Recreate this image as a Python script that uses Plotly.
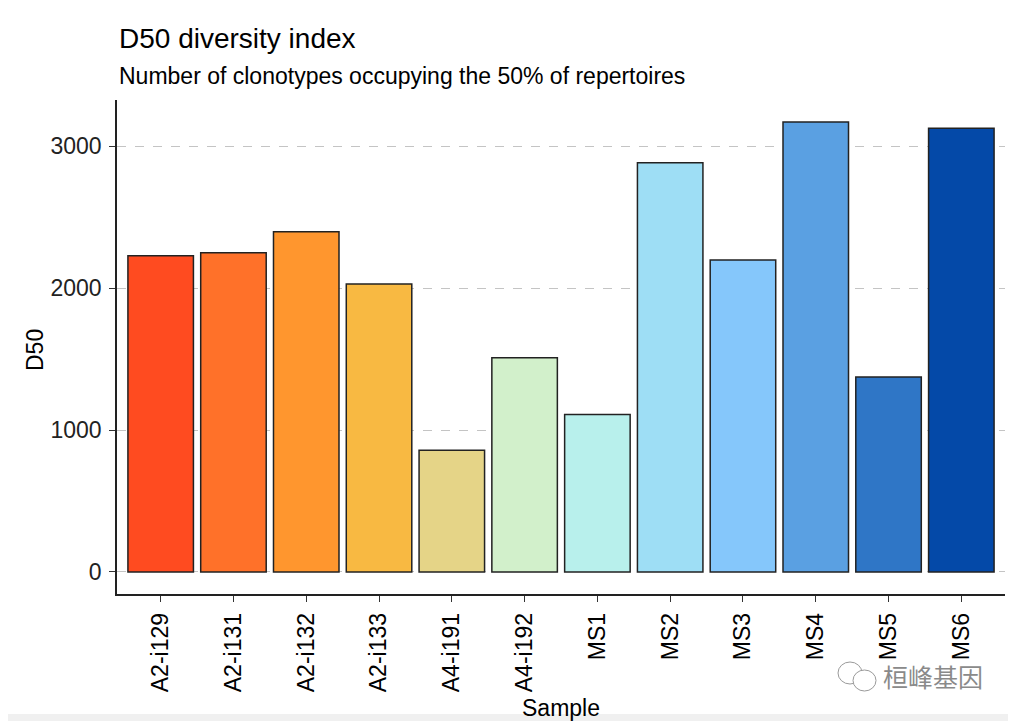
import plotly.graph_objects as go

samples = ["A2-i129", "A2-i131", "A2-i132", "A2-i133", "A4-i191", "A4-i192",
           "MS1", "MS2", "MS3", "MS4", "MS5", "MS6"]
d50 = [2227, 2249, 2397, 2028, 857, 1509, 1110, 2882, 2197, 3169, 1373, 3125]
colors = ["#FF4B20", "#FF7129", "#FF962E", "#F8B942", "#E5D487", "#D2F0CB",
          "#B8F0EC", "#9EDEF5", "#85C7FB", "#5AA0E2", "#2F76C6", "#0449A8"]
y_ticks = [0, 1000, 2000, 3000]

FONT = "Liberation Sans, Arial, sans-serif"

fig = go.Figure()
fig.add_trace(go.Bar(
    x=samples, y=d50, width=0.9,
    marker=dict(color=colors, line=dict(color="#222222", width=1.5)),
    showlegend=False,
))

# page is offset by the 8px body margin
OFF = 8
W, H = 1016 - OFF, 721 - OFF
PL, PR, PT, PB = 117, 1005, 100, 594   # plot area in page pixels
L, R, T, B = PL - OFF, 1016 - PR, PT - OFF, 721 - PB
pw, ph = PR - PL, PB - PT

def px_x(x):
    return (x - PL) / pw

def px_y(y):
    return (PB - y) / ph

GREY = "#9a9a9a"
shapes = [
    dict(type="rect", xref="paper", yref="paper",
         x0=px_x(0), x1=px_x(1016), y0=px_y(721), y1=px_y(714),
         fillcolor="#f0f0f0", line=dict(width=0), layer="below"),
    dict(type="circle", xref="paper", yref="paper",
         x0=px_x(838), x1=px_x(862), y0=px_y(684), y1=px_y(662),
         fillcolor="white", line=dict(color=GREY, width=1)),
    dict(type="circle", xref="paper", yref="paper",
         x0=px_x(853), x1=px_x(876), y0=px_y(691), y1=px_y(670),
         fillcolor="white", line=dict(color=GREY, width=1)),
]

fig.update_layout(
    width=W, height=H,
    margin=dict(l=L, r=R, t=T, b=B, pad=0),
    paper_bgcolor="white", plot_bgcolor="white",
    font=dict(family=FONT, color="#000000"),
    bargap=0.1,
    xaxis=dict(
        type="category", range=[-0.6, 11.6],
        showline=True, linecolor="#222222", linewidth=1.5,
        ticks="outside", ticklen=6, tickcolor="#333333", tickwidth=1.2,
        tickangle=-90, tickfont=dict(size=23, color="#000000"),
        ticklabelstandoff=2,
        showgrid=False, zeroline=False,
    ),
    yaxis=dict(
        range=[-155, 3324],
        tickvals=y_ticks, ticktext=[str(v) for v in y_ticks],
        showline=True, linecolor="#222222", linewidth=1.5,
        ticks="outside", ticklen=6, tickcolor="#333333", tickwidth=1.2,
        tickfont=dict(size=23, color="#222222"),
        ticklabelstandoff=3,
        showgrid=True, gridcolor="#c4c4c4", gridwidth=1.2, griddash="dash",
        zeroline=False,
    ),
    annotations=[
        dict(text="D50 diversity index", xref="paper", yref="paper",
             x=0, y=px_y(38), xanchor="left", yanchor="middle",
             showarrow=False, font=dict(size=28, color="#000000")),
        dict(text="Number of clonotypes occupying the 50% of repertoires",
             xref="paper", yref="paper", x=0, y=px_y(76),
             xanchor="left", yanchor="middle", showarrow=False,
             font=dict(size=23, color="#000000")),
        dict(text="Sample", xref="paper", yref="paper", x=0.5, y=px_y(708),
             xanchor="center", yanchor="middle", showarrow=False,
             font=dict(size=23, color="#000000")),
        dict(text="D50", xref="paper", yref="paper", x=px_x(35), y=px_y(350),
             xanchor="center", yanchor="middle", showarrow=False, textangle=-90,
             font=dict(size=23, color="#000000")),
        dict(text="桓峰基因", xref="paper", yref="paper", x=px_x(933), y=px_y(676),
             xanchor="center", yanchor="middle", showarrow=False,
             font=dict(size=25, color="#8a8a8a", family="Noto Sans CJK SC")),
    ],
    shapes=shapes,
)

fig.write_html("out.html")
